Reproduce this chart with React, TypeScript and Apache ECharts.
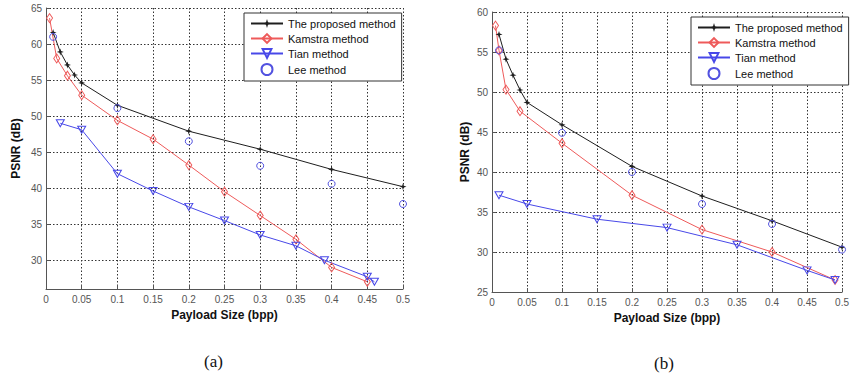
import React, { useEffect, useRef } from "react";
import * as echarts from "echarts";

// ---------- data: chart (a) ----------
const proposedA: [number, number][] = [
  [0.01, 61.6], [0.02, 58.9], [0.03, 57.1], [0.04, 55.7], [0.05, 54.6],
  [0.1, 51.5], [0.2, 47.9], [0.3, 45.4], [0.4, 42.6], [0.5, 40.2],
];
const kamstraA: [number, number][] = [
  [0.005, 63.6], [0.015, 58.0], [0.03, 55.6], [0.05, 52.9], [0.1, 49.4],
  [0.15, 46.8], [0.2, 43.2], [0.25, 39.5], [0.3, 36.2], [0.35, 32.9],
  [0.4, 29.0], [0.45, 27.0],
];
const tianA: [number, number][] = [
  [0.02, 49.0], [0.05, 48.1], [0.1, 42.0], [0.15, 39.6], [0.2, 37.4],
  [0.25, 35.5], [0.3, 33.5], [0.35, 32.0], [0.39, 30.0], [0.45, 27.7],
  [0.46, 27.0],
];
const leeA: [number, number][] = [
  [0.01, 61.0], [0.1, 51.1], [0.2, 46.5], [0.3, 43.1], [0.4, 40.6], [0.5, 37.8],
];

// ---------- data: chart (b) ----------
const proposedB: [number, number][] = [
  [0.01, 57.2], [0.02, 54.1], [0.03, 52.1], [0.04, 50.25], [0.05, 48.7],
  [0.1, 45.9], [0.2, 40.7], [0.3, 37.0], [0.4, 33.9], [0.5, 30.6],
];
const kamstraB: [number, number][] = [
  [0.005, 58.3], [0.01, 55.2], [0.02, 50.3], [0.04, 47.6], [0.1, 43.6],
  [0.2, 37.1], [0.3, 32.8], [0.4, 30.0], [0.49, 26.5],
];
const tianB: [number, number][] = [
  [0.01, 37.1], [0.05, 36.0], [0.15, 34.1], [0.25, 33.05], [0.35, 30.9],
  [0.45, 27.7], [0.49, 26.5],
];
const leeB: [number, number][] = [
  [0.01, 55.2], [0.1, 44.9], [0.2, 40.0], [0.3, 36.0], [0.4, 33.5], [0.5, 30.3],
];

// ---------- labels / ticks ----------
const seriesNames = ["The proposed method", "Kamstra method", "Tian method", "Lee method"];
const yTicksA = [30, 35, 40, 45, 50, 55, 60, 65];
const xAxisTitle = "Payload Size (bpp)";
const yAxisTitle = "PSNR (dB)";
const captions = ["(a)", "(b)"];

const BLACK = "#1e1e1e";
const RED = "#ee5a5a";
const BLUE = "#4848e8";
const LEE = "#5252e0";
const FONT = "Liberation Sans, Arial, sans-serif";
const STAR = "path://M5,0 L6.2,3.8 L10,5 L6.2,6.2 L5,10 L3.8,6.2 L0,5 L3.8,3.8 Z";
const HOLLOW = "rgba(255,255,255,0)";

function buildSeries(idx: number, p: [number, number][], k: [number, number][], t: [number, number][], l: [number, number][]) {
  return [
    {
      name: seriesNames[0], type: "line", xAxisIndex: idx, yAxisIndex: idx, data: p,
      symbol: STAR, symbolSize: 7, z: 4,
      lineStyle: { color: BLACK, width: 1 }, itemStyle: { color: BLACK },
    },
    {
      name: seriesNames[1], type: "line", xAxisIndex: idx, yAxisIndex: idx, data: k,
      symbol: "diamond", symbolSize: [6, 9], z: 3,
      lineStyle: { color: RED, width: 1 },
      itemStyle: { color: HOLLOW, borderColor: RED, borderWidth: 1 },
    },
    {
      name: seriesNames[2], type: "line", xAxisIndex: idx, yAxisIndex: idx, data: t,
      symbol: "triangle", symbolRotate: 180, symbolSize: [8, 7], z: 3,
      lineStyle: { color: BLUE, width: 1 },
      itemStyle: { color: HOLLOW, borderColor: BLUE, borderWidth: 1 },
    },
    {
      name: seriesNames[3], type: "scatter", xAxisIndex: idx, yAxisIndex: idx, data: l,
      symbol: "circle", symbolSize: 7, z: 5,
      itemStyle: { color: HOLLOW, borderColor: LEE, borderWidth: 1, opacity: 1 },
    },
  ];
}

const gridLine = { show: true, lineStyle: { color: "#333", width: 1, type: [1.5, 2] } };
const axLabel = { color: "#555", fontSize: 10, fontFamily: FONT };
const axName = { color: "#111", fontSize: 12, fontWeight: "bold", fontFamily: FONT };

function xAxis(idx: number, gap: number) {
  return {
    type: "value", gridIndex: idx, min: 0, max: 0.5, interval: 0.05,
    axisLine: { show: true, onZero: false, lineStyle: { color: "#555" } },
    axisTick: { show: true, inside: true, length: 4, lineStyle: { color: "#555" } },
    axisLabel: { ...axLabel, margin: 5 },
    splitLine: gridLine,
    name: xAxisTitle, nameLocation: "middle", nameGap: gap, nameTextStyle: axName,
  };
}

function legend(left: number, top: number) {
  return {
    data: seriesNames, left, top, orient: "vertical",
    backgroundColor: "#fff", borderColor: "#333", borderWidth: 1,
    padding: [5, 6, 5, 6], itemWidth: 32, itemHeight: 11, itemGap: 4,
    textStyle: { fontSize: 11, color: "#111", fontFamily: FONT },
    selectedMode: false,
  };
}

export default function App() {
  const ref = useRef<HTMLDivElement>(null);
  useEffect(() => {
    if (!ref.current) return;
    const chart = echarts.init(ref.current, undefined, { renderer: "svg" });
    chart.setOption({
      animation: false,
      backgroundColor: "#fff",
      grid: [
        { left: 46, top: 8, width: 357, height: 281 },
        { left: 492, top: 12, width: 358, height: 280 },
      ],
      xAxis: [xAxis(0, 17), xAxis(1, 19)],
      yAxis: [
        {
          type: "value", gridIndex: 0, min: 26, max: 65,
          axisLine: { show: true, lineStyle: { color: "#555" } },
          axisTick: { show: true, inside: true, length: 4, customValues: yTicksA, lineStyle: { color: "#555" } },
          axisLabel: { ...axLabel, margin: 4, customValues: yTicksA },
          splitLine: { ...gridLine, customValues: yTicksA },
          name: yAxisTitle, nameLocation: "middle", nameGap: 24, nameRotate: 90, nameTextStyle: axName,
        },
        {
          type: "value", gridIndex: 1, min: 25, max: 60, interval: 5,
          axisLine: { show: true, lineStyle: { color: "#555" } },
          axisTick: { show: true, inside: true, length: 4, lineStyle: { color: "#555" } },
          axisLabel: { ...axLabel, margin: 4 },
          splitLine: gridLine,
          name: yAxisTitle, nameLocation: "middle", nameGap: 21, nameRotate: 90, nameTextStyle: axName,
        },
      ],
      legend: [legend(244, 13), legend(691, 17)],
      graphic: [
        { type: "text", left: 204, top: 353, style: { text: captions[0], fontSize: 17, fontFamily: "Liberation Serif, serif", fill: "#111" } },
        { type: "text", left: 654, top: 355, style: { text: captions[1], fontSize: 17, fontFamily: "Liberation Serif, serif", fill: "#111" } },
      ],
      series: [
        ...buildSeries(0, proposedA, kamstraA, tianA, leeA),
        ...buildSeries(1, proposedB, kamstraB, tianB, leeB),
      ],
    });
    return () => chart.dispose();
  }, []);
  return (
    <div
      ref={ref}
      style={{ position: "fixed", left: 0, top: 0, width: 852, height: 379, background: "#fff" }}
    />
  );
}
